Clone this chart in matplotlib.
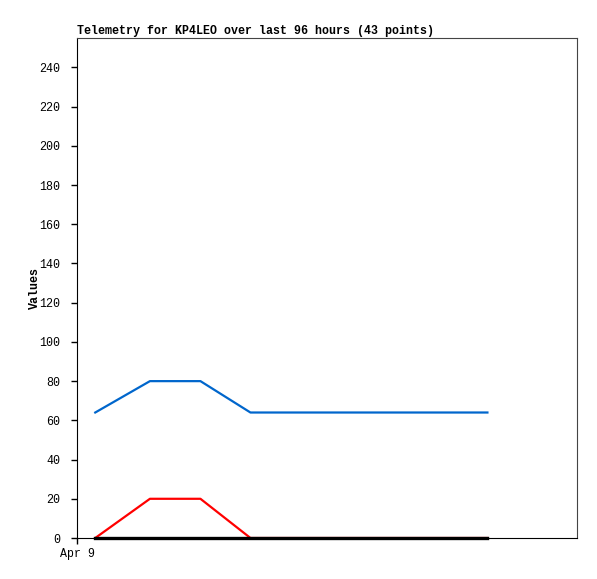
import matplotlib

matplotlib.use("Agg")

import matplotlib.pyplot as plt

# hours since Apr 9 00:00, breakpoints of each series
HOURS = [3.5, 14.0, 23.7, 33.3, 78.8]
BLUE_VALUES = [64, 80, 80, 64, 64]
RED_VALUES = [0, 20, 20, 0, 0]
BLACK_VALUES = [0, 0, 0, 0, 0]
X_TICKS = [0]
X_TICK_LABELS = ["Apr 9"]
Y_TICKS = list(range(0, 241, 20))

plt.rcParams.update(
    {
        "font.family": ["Liberation Mono", "DejaVu Sans Mono"],
        "font.size": 8.4,
    }
)

fig = plt.figure(figsize=(5.97, 5.79), dpi=100)
ax = fig.add_axes([0.129, 0.0708, 0.8375, 0.8636])

ax.plot(HOURS, RED_VALUES, color="#FF0000", linewidth=1.6, zorder=3)
ax.plot(HOURS, BLUE_VALUES, color="#0066CC", linewidth=1.6, zorder=3)
ax.plot(HOURS, BLACK_VALUES, color="black", linewidth=2.4, zorder=4,
        clip_on=False)

ax.set_xlim(0, 96)
ax.set_ylim(0, 255)
ax.set_xticks(X_TICKS, X_TICK_LABELS)
ax.set_yticks(Y_TICKS)
ax.tick_params(direction="out", length=4, width=1, pad=3)
ax.tick_params(axis="y", pad=8)
ax.set_ylabel("Values", fontweight="bold", labelpad=-1)
ax.set_title(
    "Telemetry for KP4LEO over last 96 hours (43 points)",
    loc="left",
    fontweight="bold",
    fontsize=8.4,
    pad=3,
)
for side in ("top", "right"):
    ax.spines[side].set_color("#444444")

fig.savefig("out.png", dpi=100)
